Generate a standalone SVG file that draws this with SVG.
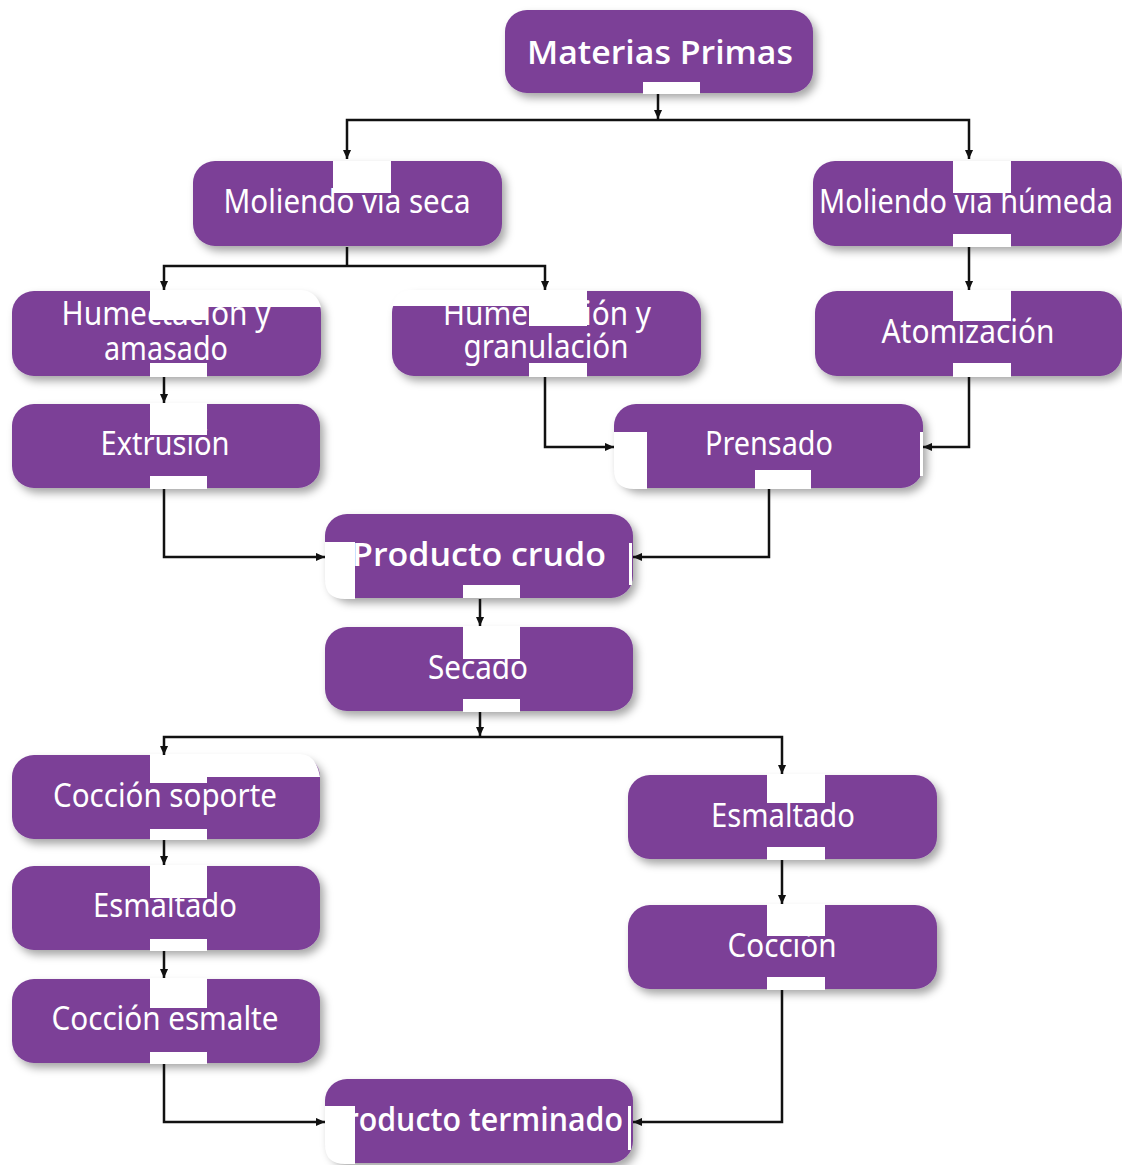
<svg xmlns="http://www.w3.org/2000/svg" width="1122" height="1165" viewBox="0 0 1122 1165">
<defs>
<filter id="sh" x="-10%" y="-20%" width="125%" height="150%">
<feDropShadow dx="4" dy="5" stdDeviation="4" flood-color="#000" flood-opacity="0.35"/>
</filter>
<marker id="a" viewBox="0 0 10 10" refX="10" refY="5" markerWidth="10" markerHeight="9" markerUnits="userSpaceOnUse" orient="auto-start-reverse">
<path d="M0,0.5 L10,5 L0,9.5z" fill="#111"/>
</marker>
</defs>
<style>
.box{fill:#7b3f97;filter:url(#sh)}
.t{font-family:"Noto Sans","Open Sans","Liberation Sans",sans-serif;fill:#fff;font-size:33px;text-anchor:middle}
.b{font-family:"Open Sans","Noto Sans","Liberation Sans",sans-serif;font-weight:600}
.p{fill:#fff}
.c{fill:none;stroke:#111;stroke-width:2.5}
.ca{fill:none;stroke:#111;stroke-width:2.5;marker-end:url(#a)}
.cb{fill:none;stroke:#111;stroke-width:2.5;marker-start:url(#a);marker-end:url(#a)}
</style>
<rect width="1122" height="1165" fill="#fff"/>

<g id="n-materias">
<rect class="box" x="505" y="10" width="308" height="83" rx="22"/>
<text class="t b" x="660" y="64" font-size="37" textLength="266" lengthAdjust="spacingAndGlyphs">Materias Primas</text>
<rect class="p" x="643" y="82" width="57" height="12"/>
</g>

<g id="n-mvs">
<rect class="box" x="193" y="161" width="309" height="85" rx="22"/>
<text class="t" x="347" y="213" textLength="247" lengthAdjust="spacingAndGlyphs">Moliendo vía seca</text>
<rect class="p" x="333" y="161" width="58" height="32"/>
</g>

<g id="n-mvh">
<rect class="box" x="813" y="161" width="309" height="85" rx="22"/>
<text class="t" x="966" y="213" textLength="294" lengthAdjust="spacingAndGlyphs">Moliendo vía húmeda</text>
<rect class="p" x="953" y="161" width="58" height="32"/>
<rect class="p" x="953" y="234" width="58" height="13"/>
</g>

<g id="n-hum-amasado">
<rect class="box" x="12" y="291" width="309" height="85" rx="22"/>
<text class="t" font-size="31"><tspan x="166" y="325" textLength="209" lengthAdjust="spacingAndGlyphs">Humectación y</tspan><tspan x="166" y="360" textLength="124" lengthAdjust="spacingAndGlyphs">amasado</tspan></text>
<rect class="p" x="150" y="290" width="57" height="30"/>
<path class="p" d="M150,290 H300 Q316,290 321,307 H150 Z"/>
<rect class="p" x="150" y="363" width="57" height="14"/>
</g>

<g id="n-hum-gran">
<rect class="box" x="392" y="291" width="309" height="85" rx="22"/>
<text class="t" font-size="31"><tspan x="547" y="325" textLength="208" lengthAdjust="spacingAndGlyphs">Humectación y</tspan><tspan x="546" y="358" textLength="165" lengthAdjust="spacingAndGlyphs">granulación</tspan></text>
<rect class="p" x="529" y="290" width="58" height="36"/>
<path class="p" d="M529,290 H412 Q396,290 392,306 H529 Z"/>
<rect class="p" x="529" y="363" width="58" height="14"/>
</g>

<g id="n-atom">
<rect class="box" x="815" y="291" width="307" height="85" rx="22"/>
<text class="t" x="968" y="343" textLength="173" lengthAdjust="spacingAndGlyphs">Atomización</text>
<rect class="p" x="953" y="290" width="58" height="31"/>
<rect class="p" x="953" y="363" width="58" height="14"/>
</g>

<g id="n-extrusion">
<rect class="box" x="12" y="404" width="308" height="84" rx="22"/>
<text class="t" x="165" y="455" textLength="129" lengthAdjust="spacingAndGlyphs">Extrusión</text>
<rect class="p" x="150" y="403" width="57" height="32"/>
<rect class="p" x="150" y="476" width="57" height="13"/>
</g>

<g id="n-prensado">
<rect class="box" x="614" y="404" width="309" height="84" rx="22"/>
<text class="t" x="769" y="455" textLength="128" lengthAdjust="spacingAndGlyphs">Prensado</text>
<path class="p" d="M614,432 H647 V489 H634 Q614,489 614,470 Z"/>
<rect class="p" x="920" y="432" width="3" height="44"/>
<rect class="p" x="755" y="470" width="56" height="19"/>
</g>

<g id="n-crudo">
<rect class="box" x="325" y="514" width="308" height="84" rx="22"/>
<text class="t b" x="479" y="566" font-size="36" textLength="254" lengthAdjust="spacingAndGlyphs">Producto crudo</text>
<path class="p" d="M325,542 H355 V599 H345 Q325,599 325,580 Z"/>
<rect class="p" x="629" y="543" width="3" height="42"/>
<rect class="p" x="463" y="585" width="57" height="13"/>
</g>

<g id="n-secado">
<rect class="box" x="325" y="627" width="308" height="84" rx="22"/>
<text class="t" x="478" y="679" textLength="100" lengthAdjust="spacingAndGlyphs">Secado</text>
<rect class="p" x="463" y="626" width="57" height="33"/>
<rect class="p" x="463" y="699" width="57" height="13"/>
</g>

<g id="n-coccion-soporte">
<rect class="box" x="12" y="755" width="308" height="84" rx="22"/>
<text class="t" x="165" y="807" textLength="224" lengthAdjust="spacingAndGlyphs">Cocción soporte</text>
<rect class="p" x="150" y="754" width="57" height="29"/>
<path class="p" d="M150,754 H300 Q316,754 320,777 H150 Z"/>
<rect class="p" x="150" y="829" width="57" height="11"/>
</g>

<g id="n-esmaltado-l">
<rect class="box" x="12" y="866" width="308" height="84" rx="22"/>
<text class="t" x="165" y="917" textLength="144" lengthAdjust="spacingAndGlyphs">Esmaltado</text>
<rect class="p" x="150" y="865" width="57" height="33"/>
<rect class="p" x="150" y="939" width="57" height="12"/>
</g>

<g id="n-coccion-esmalte">
<rect class="box" x="12" y="979" width="308" height="84" rx="22"/>
<text class="t" x="165" y="1030" textLength="227" lengthAdjust="spacingAndGlyphs">Cocción esmalte</text>
<rect class="p" x="150" y="978" width="57" height="30"/>
<rect class="p" x="150" y="1052" width="57" height="12"/>
</g>

<g id="n-esmaltado-r">
<rect class="box" x="628" y="775" width="309" height="84" rx="22"/>
<text class="t" x="783" y="827" textLength="144" lengthAdjust="spacingAndGlyphs">Esmaltado</text>
<rect class="p" x="767" y="774" width="58" height="29"/>
<rect class="p" x="767" y="847" width="58" height="13"/>
</g>

<g id="n-coccion-r">
<rect class="box" x="628" y="905" width="309" height="84" rx="22"/>
<text class="t" x="782" y="957" textLength="109" lengthAdjust="spacingAndGlyphs">Cocción</text>
<rect class="p" x="767" y="904" width="58" height="32"/>
<rect class="p" x="767" y="977" width="58" height="13"/>
</g>

<g id="n-terminado">
<rect class="box" x="325" y="1079" width="308" height="84" rx="22"/>
<text class="t b" x="475" y="1131" font-size="36" textLength="296" lengthAdjust="spacingAndGlyphs">Producto terminado</text>
<path class="p" d="M325,1106 H355 V1164 H345 Q325,1164 325,1145 Z"/>
<rect class="p" x="628" y="1106" width="3" height="44"/>
</g>

<g id="connectors">
<path class="ca" d="M658,94 V119"/>
<path class="cb" d="M347,159 V120 H969 V159"/>
<path class="c" d="M347,247 V266"/>
<path class="cb" d="M164,290 V266 H545 V290"/>
<path class="ca" d="M969,247 V290"/>
<path class="ca" d="M164,377 V403"/>
<path class="ca" d="M545,377 V447 H614"/>
<path class="ca" d="M969,377 V447 H923"/>
<path class="ca" d="M164,489 V557 H325"/>
<path class="ca" d="M769,489 V557 H633"/>
<path class="ca" d="M480,599 V626"/>
<path class="ca" d="M480,712 V736"/>
<path class="cb" d="M164,755 V737 H782 V774"/>
<path class="ca" d="M164,840 V865"/>
<path class="ca" d="M164,951 V978"/>
<path class="ca" d="M164,1064 V1122 H325"/>
<path class="ca" d="M782,860 V904"/>
<path class="ca" d="M782,990 V1122 H633"/>
</g>
</svg>
